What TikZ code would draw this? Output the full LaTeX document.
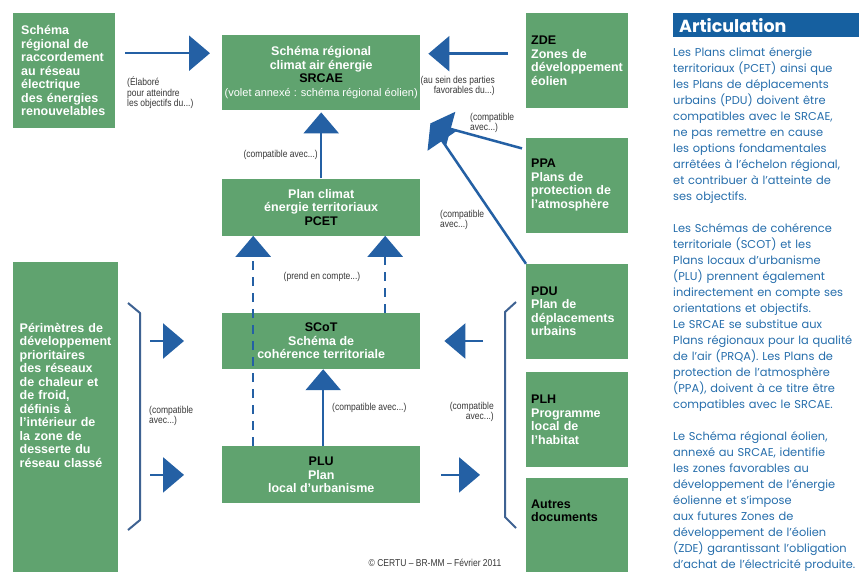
\documentclass[tikz,border=0pt]{standalone}
\usepackage{fontspec}
\setmainfont{Liberation Sans}
\newfontfamily\artfont{Poppins}
\newfontfamily\narrowfont{Liberation Sans}[FakeStretch=0.85]
\usepackage{xcolor}
\usetikzlibrary{arrows.meta,positioning,calc}
\definecolor{BoxGreen}{RGB}{96,163,111}
\definecolor{ArrowBlue}{RGB}{36,96,164}
\definecolor{BraceBlue}{RGB}{62,98,146}
\definecolor{HeadBlue}{RGB}{22,96,160}
\definecolor{TextBlue}{RGB}{38,110,172}
\definecolor{LabelGray}{RGB}{55,55,55}

\begin{document}
\begin{tikzpicture}[x=1pt, y=-1pt,
  box/.style={fill=BoxGreen, inner sep=0pt, text=white, font=\bfseries\fontsize{12.5}{13.5}\selectfont},
  sidebox/.style={box, minimum width=102pt, minimum height=95pt, text width=92pt, align=left},
  midbox/.style={box, minimum width=198pt, align=center},
  lbl/.style={font=\narrowfont\fontsize{10}{10.5}\selectfont, text=LabelGray, inner sep=0pt},
  arr/.style={color=ArrowBlue, line width=2.5pt, -{Triangle[length=21pt,width=35pt]}},
  dasharr/.style={arr, dash pattern=on 9pt off 7pt},
  brace/.style={draw=BraceBlue, line width=2pt, line join=round}]
\fill[white] (0,0) rectangle (859,571);
\useasboundingbox (0,0) rectangle (859,571);

% boxes on the left
\node[box, anchor=north west, minimum width=102pt, minimum height=115pt, text width=86pt, align=left] (raccord) at (13,13) {Schéma\\régional de\\raccordement\\au réseau\\électrique\\des énergies\\renouvelables};
\node[box, anchor=north west, minimum width=105pt, minimum height=266pt, text width=92pt, align=left] (perim) at (13,262) {Périmètres de\\développement\\prioritaires\\des réseaux\\de chaleur et\\de froid,\\définis à\\l’intérieur de\\la zone de\\desserte du\\réseau classé};
\fill[BoxGreen] (perim.south west) rectangle (perim.east |- 0,580);

% central column
\node[midbox, anchor=north west, minimum height=75pt] (srcae) at (222,35) {Schéma régional\\climat air énergie\\\textcolor{black}{SRCAE}\\{\mdseries\fontsize{11}{12}\selectfont(volet annexé : schéma régional éolien)}};
\node[midbox, below=68pt of srcae, minimum height=57pt] (pcet) {Plan climat\\énergie territoriaux\\\textcolor{black}{PCET}};
\node[midbox, below=77pt of pcet, minimum height=56pt] (scot) {\textcolor{black}{SCoT}\\Schéma de\\cohérence territoriale};
\node[midbox, below=77pt of scot, minimum height=57pt] (plu) {\textcolor{black}{PLU}\\Plan\\local d’urbanisme};

% boxes on the right
\node[sidebox, anchor=north west] (zde) at (526,13) {\textcolor{black}{ZDE}\\Zones de\\développement\\éolien};
\node[sidebox, below=29pt of zde] (ppa) {\textcolor{black}{PPA}\\Plans de\\protection de\\l’atmosphère};
\node[sidebox, below=31pt of ppa] (pdu) {\textcolor{black}{PDU}\\Plan de\\déplacements\\urbains};
\node[sidebox, below=13pt of pdu] (plh) {\textcolor{black}{PLH}\\Programme\\local de\\l’habitat};
\node[sidebox, below=10pt of plh, minimum height=66pt, text=black] (autres) {Autres\\documents};
\fill[BoxGreen] (autres.south west) rectangle (autres.east |- 0,580);

% arrows
\coordinate (a1) at ([yshift=17.5pt]raccord.east);
\coordinate (a2) at ([yshift=7pt]zde.west);
\coordinate (tipc) at ([xshift=10pt,yshift=-13pt]srcae.south east);
\draw[arr, shorten <=10pt, shorten >=12pt] (a1) -- (a1 -| srcae.west);
\draw[arr, shorten <=18pt, shorten >=8pt] (a2) -- (a2 -| srcae.east);
\draw[arr] ([xshift=-4pt,yshift=-11pt]ppa.north west) -- (tipc);
\draw[arr] (pdu.north west) -- (tipc);
\draw[arr, shorten >=2pt] (pcet.north) -- (srcae.south);

\coordinate (d1) at ([xshift=-68pt]plu.north);
\coordinate (d2) at ([xshift=64pt]scot.north);
\coordinate (p1) at ([xshift=2pt]plu.north);
\draw[dasharr] (d1) -- (d1 |- pcet.south);
\draw[dasharr] (d2) -- (d2 |- pcet.south);
\draw[arr] (p1) -- (p1 |- scot.south);

\draw[arr, shorten <=32pt, shorten >=38pt] (perim.east |- scot.west) -- (scot.west);
\draw[arr, shorten <=32pt, shorten >=38pt] (perim.east |- plu.west) -- (plu.west);
\draw[arr, shorten <=43pt, shorten >=24pt] (pdu.west |- scot.east) -- (scot.east);
\draw[arr, shorten <=21pt, shorten >=46pt] (plu.east) -- (plu.east -| pdu.west);

% brackets
\draw[brace] (128,303) -- (140,313) -- (140,520) -- (128,530);
\draw[brace] (516,302) -- (505,312) -- (505,517) -- (516,528);

% labels
\node[lbl, anchor=north west, align=left] (lelab) at (127,77) {(Élaboré\\pour atteindre\\les objectifs du...)};
\node[lbl, anchor=north east, align=right] (lsein) at (495,76) {(au sein des parties\\favorables du...)};
\node[lbl, anchor=north west, align=left] (lppa) at (470,113) {(compatible\\avec...)};
\node[lbl, anchor=east] (lpcet) at (318,155) {(compatible avec...)};
\node[lbl, anchor=north west, align=left] (lpdu) at (440,210) {(compatible\\avec...)};
\node[lbl] (lprend) at (322,277) {(prend en compte...)};
\node[lbl, anchor=west] (lplu) at (332,408) {(compatible avec...)};
\node[lbl, anchor=north west, align=left] (lleft) at (149,406) {(compatible\\avec...)};
\node[lbl, anchor=north east, align=right] (lright) at (494,402) {(compatible\\avec...)};
\node[lbl] (copy) at (435,563) {© CERTU – BR-MM – Février 2011};

% text column
\node[anchor=north west, fill=HeadBlue, minimum height=24pt, inner xsep=6pt, inner ysep=0pt, text width=174pt, align=left, text=white, font=\artfont\bfseries\fontsize{17.5}{18}\selectfont] (head) at (673,13) {Articulation};
\node[anchor=north west, inner sep=0pt, text width=200pt, align=left, text=TextBlue, font=\artfont\fontsize{11.4}{16}\selectfont] (body) at (673,47) {Les Plans climat énergie\\territoriaux (PCET) ainsi que\\les Plans de déplacements\\urbains (PDU) doivent être\\compatibles avec le SRCAE,\\ne pas remettre en cause\\les options fondamentales\\arrêtées à l’échelon régional,\\et contribuer à l’atteinte de\\ses objectifs.\\[16pt]Les Schémas de cohérence\\territoriale (SCOT) et les\\Plans locaux d’urbanisme\\(PLU) prennent également\\indirectement en compte ses\\orientations et objectifs.\\Le SRCAE se substitue aux\\Plans régionaux pour la qualité\\de l’air (PRQA). Les Plans de\\protection de l’atmosphère\\(PPA), doivent à ce titre être\\compatibles avec le SRCAE.\\[16pt]Le Schéma régional éolien,\\annexé au SRCAE, identifie\\les zones favorables au\\développement de l’énergie\\éolienne et s’impose\\aux futures Zones de\\développement de l’éolien\\(ZDE) garantissant l’obligation\\d’achat de l’électricité produite.};
\end{tikzpicture}
\end{document}
